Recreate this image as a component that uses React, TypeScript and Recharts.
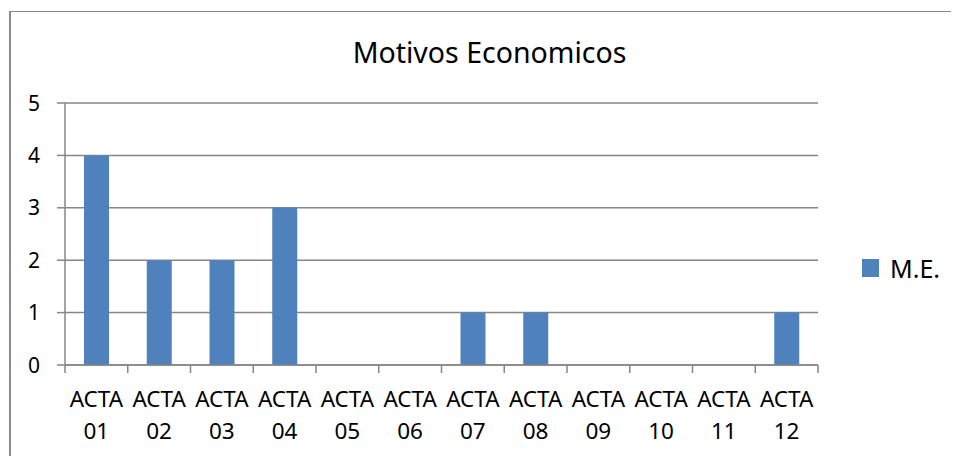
import React from 'react';
import { BarChart, Bar, XAxis, YAxis, CartesianGrid } from 'recharts';

const actas = ['01', '02', '03', '04', '05', '06', '07', '08', '09', '10', '11', '12'];
const meValues = [4, 2, 2, 3, 0, 0, 1, 1, 0, 0, 0, 1];
const yTicks = [0, 1, 2, 3, 4, 5];

const data = actas.map((n, i) => ({ name: n, me: meValues[i] }));

const FONT = '"Noto Sans", "Open Sans", sans-serif';
const GRID = '#868686';
const BAR = '#4f81bd';
const PLOT_W = 753;
const band = PLOT_W / actas.length;
const AXIS_Y = 365;

// Excel-style category label: two lines plus tick marks at category boundaries
const ActaTick = (props: any) => {
  const { x, payload, index } = props;
  const last = index === actas.length - 1;
  const y = AXIS_Y;
  return (
    <g>
      <line x1={x - band / 2} x2={x - band / 2} y1={y} y2={y + 8} stroke={GRID} strokeWidth={1.5} />
      {last && <line x1={x + band / 2} x2={x + band / 2} y1={y} y2={y + 8} stroke={GRID} strokeWidth={1.5} />}
      <text x={x} y={y + 42} textAnchor="middle" fontSize={22.5} fontFamily={FONT} fill="#000">ACTA</text>
      <text x={x} y={y + 74} textAnchor="middle" fontSize={22.5} fontFamily={FONT} fill="#000">{payload.value}</text>
    </g>
  );
};

const ValueTick = (props: any) => {
  const { y, payload } = props;
  return (
    <text x={34} y={y + 7.5} textAnchor="middle" fontSize={21} fontFamily={FONT} fill="#000">
      {payload.value}
    </text>
  );
};

export default function App() {
  return (
    <div style={{ position: 'relative', margin: -8, width: 959, height: 464, background: '#fff', overflow: 'hidden' }}>
      <div
        style={{
          position: 'absolute',
          left: 9,
          top: 11,
          width: 980,
          height: 450,
          borderLeft: '2px solid #8a8a8a',
          borderTop: '1px solid #8a8a8a',
          borderBottom: '1px solid #d9d9d9',
        }}
      />
      <div
        style={{
          position: 'absolute',
          left: 0,
          width: 979,
          top: 33,
          textAlign: 'center',
          fontFamily: FONT,
          fontSize: 28.5,
          color: '#000',
        }}
      >
        Motivos Economicos
      </div>
      <div style={{ position: 'absolute', left: 0, top: 0 }}>
        <BarChart
          width={959}
          height={464}
          data={data}
          margin={{ top: 103, right: 141, bottom: 19, left: 20 }}
          barSize={25}
        >
          <CartesianGrid horizontal vertical={false} stroke={GRID} strokeWidth={1.5} />
          <XAxis
            dataKey="name"
            height={80}
            axisLine={{ stroke: GRID, strokeWidth: 1.5 }}
            tickLine={false}
            tick={<ActaTick />}
            interval={0}
          />
          <YAxis
            width={45}
            domain={[0, 5]}
            ticks={yTicks}
            tickSize={8}
            axisLine={{ stroke: GRID, strokeWidth: 1.5 }}
            tickLine={{ stroke: GRID, strokeWidth: 1.5 }}
            tick={<ValueTick />}
          />
          <Bar dataKey="me" name="M.E." fill={BAR} isAnimationActive={false} />
        </BarChart>
      </div>
      <div style={{ position: 'absolute', left: 862, top: 251, display: 'flex', alignItems: 'center', fontFamily: FONT, fontSize: 25 }}>
        <div style={{ width: 17, height: 18, background: BAR, marginRight: 11 }} />
        <span>M.E.</span>
      </div>
    </div>
  );
}
